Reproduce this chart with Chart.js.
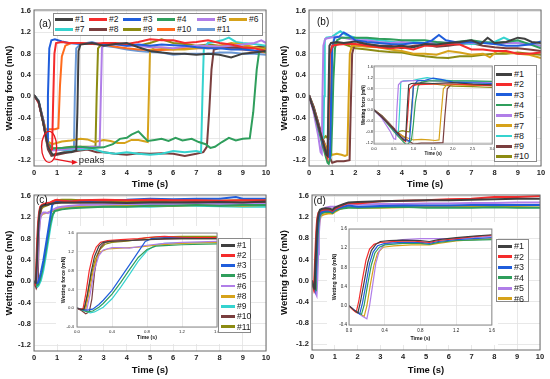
<!DOCTYPE html>
<html>
<head>
<meta charset="utf-8">
<title>Wetting force vs time</title>
<script src="https://cdn.jsdelivr.net/npm/chart.js@4.4.1/dist/chart.umd.min.js"></script>
<style>
  body { margin: 0; background: #fff; }
  #page { position: relative; width: 550px; height: 379px; overflow: hidden; font-family: Arial, "Liberation Sans", sans-serif; }
  #page canvas { position: absolute; }
  .legend { position: absolute; background: #fff; border: 1px solid #8a8a8a; box-sizing: border-box; }
  .item { position: absolute; height: 12px; line-height: 12px; white-space: nowrap; color: #1a1a1a; }
  .item i { position: absolute; left: 0; top: 4.75px; height: 2.8px; }
  .item span { position: absolute; top: 0; }
</style>
</head>
<body>
<div id="page"></div>
<script>
// ---- data ----
const colors = ['#404040', '#f42c2c', '#1f5ddb', '#2f9e5c', '#b07ee8', '#d6a21a', '#35d3cf', '#7a3e3e', '#8c8b12', '#ff6b1c', '#6b99d6'];

const timeTicks = [0, 1, 2, 3, 4, 5, 6, 7, 8, 9, 10];
const forceTicks = [-1.2, -0.8, -0.4, 0.0, 0.4, 0.8, 1.2, 1.6];
const insetTimeTicksB = [0, 0.5, 1.0, 1.5, 2.0, 2.5, 3.0];
const insetTimeTicksCD = [0, 0.4, 0.8, 1.2, 1.6];
const insetForceTicksCD = [-0.4, 0.0, 0.4, 0.8, 1.2, 1.6];

// (a)
const labelsA = ['#1', '#2', '#3', '#4', '#5', '#6', '#7', '#8', '#9', '#10', '#11'];
const a1 = [[0,0.02],[0.2,-0.1],[0.4,-0.5],[0.6,-0.95],[0.8,-1.1],[1.0,-1.08],[1.3,-1.05],[1.6,-1.05],[1.82,-1.02],[1.87,-0.3],[1.92,0.85],[2.0,0.97],[2.5,1.0],[3.0,0.95],[3.5,0.98],[4.0,1.0],[4.5,0.92],[5.0,0.85],[5.5,0.82],[6.0,0.8],[6.5,0.8],[7.0,0.78],[7.5,0.8],[8.0,0.78],[8.5,0.73],[9.0,0.8],[9.5,0.82],[10,0.85]];
const a2 = [[0,0.02],[0.2,-0.12],[0.4,-0.5],[0.55,-0.85],[0.7,-1.02],[0.78,-1.0],[0.82,-0.2],[0.88,0.8],[0.95,1.0],[1.2,1.02],[1.5,1.0],[2.0,1.0],[2.5,0.98],[3.0,1.0],[3.5,1.0],[4.0,0.98],[4.5,1.02],[5.0,1.07],[5.5,1.05],[6.0,1.05],[6.5,1.0],[7.0,1.02],[7.5,1.05],[8.0,1.0],[8.5,0.97],[9.0,0.92],[9.5,0.9],[10,0.85]];
const a3 = [[0,0.02],[0.2,-0.1],[0.4,-0.45],[0.52,-0.8],[0.57,-0.85],[0.6,0.0],[0.66,0.9],[0.75,1.05],[0.9,1.07],[1.2,1.03],[1.5,1.0],[2.0,0.98],[2.5,1.0],[3.0,0.97],[3.5,0.98],[4.0,0.95],[4.5,0.97],[5.0,0.95],[5.5,0.97],[6.0,0.96],[6.5,0.95],[7.0,0.92],[7.5,0.9],[8.0,0.9],[8.5,0.88],[9.0,0.88],[9.5,0.86],[10,0.85]];
const a4 = [[0,0.02],[0.2,-0.1],[0.4,-0.5],[0.6,-0.9],[0.8,-0.98],[1.2,-0.97],[1.6,-0.96],[2.0,-0.95],[2.5,-0.97],[3.0,-0.96],[3.4,-0.9],[3.7,-0.8],[4.0,-0.78],[4.2,-0.72],[4.5,-0.66],[4.7,-0.75],[4.9,-0.84],[5.2,-0.82],[5.5,-0.8],[5.8,-0.84],[6.1,-0.78],[6.4,-0.83],[6.8,-0.8],[7.1,-0.86],[7.4,-0.9],[7.6,-0.97],[7.8,-0.95],[8.1,-0.86],[8.4,-0.78],[8.7,-0.83],[9.0,-0.8],[9.3,-0.79],[9.45,-0.3],[9.6,0.5],[9.7,0.82],[9.85,0.86],[10,0.82]];
const a5 = [[0,0.02],[0.2,-0.12],[0.4,-0.5],[0.6,-0.95],[0.8,-1.02],[1.2,-1.0],[1.6,-0.98],[2.0,-0.97],[2.5,-0.95],[2.83,-0.95],[2.88,0.0],[2.93,0.92],[3.1,0.98],[3.5,0.97],[4.0,0.95],[4.5,0.95],[5.0,0.92],[5.5,0.92],[6.0,0.9],[6.5,0.93],[7.0,0.95],[7.5,0.95],[8.0,0.93],[8.5,0.95],[9.0,0.97],[9.5,1.0],[9.8,1.05],[10,1.0]];
const a6 = [[0,0.02],[0.2,-0.1],[0.4,-0.45],[0.6,-0.85],[0.8,-0.9],[1.2,-0.85],[1.6,-0.83],[2.0,-0.8],[2.3,-0.81],[2.6,-0.86],[3.0,-0.82],[3.3,-0.84],[3.6,-0.88],[3.9,-0.88],[4.2,-0.82],[4.5,-0.82],[4.9,-0.86],[4.95,0.0],[5.0,0.85],[5.2,0.92],[5.6,0.9],[6.0,0.88],[6.5,0.88],[7.0,0.9],[7.5,0.93],[8.0,0.95],[8.5,1.0],[9.0,0.97],[9.5,0.92],[10,0.88]];
const a7 = [[0,0.02],[0.2,-0.1],[0.4,-0.5],[0.6,-0.9],[0.8,-1.0],[1.2,-1.0],[1.6,-1.0],[2.0,-1.0],[2.5,-0.98],[3.0,-1.05],[3.5,-1.08],[4.0,-1.05],[4.5,-1.08],[5.0,-1.1],[5.5,-1.08],[6.0,-1.03],[6.5,-1.05],[7.0,-1.03],[7.2,-1.05],[7.26,0.0],[7.32,0.9],[7.5,1.0],[7.8,1.02],[8.1,1.05],[8.4,1.1],[8.7,1.02],[9.0,1.0],[9.5,0.98],[10,0.95]];
const a8 = [[0,0.02],[0.2,-0.1],[0.4,-0.5],[0.6,-1.0],[0.75,-1.12],[1.0,-1.1],[1.5,-1.05],[2.0,-1.02],[2.3,-1.0],[2.7,-1.05],[3.0,-1.05],[3.5,-1.08],[4.0,-1.1],[4.5,-1.07],[5.0,-1.08],[5.5,-1.07],[6.0,-1.08],[6.5,-1.12],[7.0,-1.08],[7.3,-1.05],[7.45,-0.95],[7.55,-0.3],[7.65,0.5],[7.75,0.88],[8.0,0.9],[8.5,0.92],[9.0,0.9],[9.5,0.92],[10,0.95]];
const a9 = [[0,0.02],[0.2,-0.1],[0.4,-0.5],[0.6,-0.9],[0.8,-0.98],[1.2,-0.97],[1.6,-0.95],[2.0,-0.95],[2.4,-0.95],[2.65,-0.95],[2.7,0.0],[2.76,0.9],[2.9,0.97],[3.5,0.98],[4.0,0.97],[4.5,0.95],[5.0,1.0],[5.5,1.07],[6.0,1.0],[6.5,0.98],[7.0,0.95],[7.5,0.97],[8.0,0.95],[8.5,0.95],[9.0,0.92],[9.5,0.92],[10,0.9]];
const a10 = [[0,0.02],[0.2,-0.12],[0.4,-0.45],[0.5,-0.62],[0.7,-0.62],[0.9,-0.62],[1.05,-0.6],[1.12,0.2],[1.2,0.75],[1.35,0.95],[1.6,1.0],[2.0,1.0],[2.5,0.98],[3.0,0.97],[3.5,0.93],[4.0,0.9],[4.5,0.88],[5.0,0.87],[5.5,0.87],[6.0,0.88],[6.5,0.9],[7.0,0.9],[7.5,0.9],[8.0,0.92],[8.5,0.9],[9.0,0.88],[9.5,0.85],[10,0.82]];
const a11 = [[0,0.02],[0.2,-0.08],[0.4,-0.45],[0.6,-0.85],[0.8,-0.98],[1.2,-1.0],[1.5,-1.02],[1.72,-1.02],[1.76,0.0],[1.82,0.9],[2.0,0.98],[2.5,1.02],[3.0,0.95],[3.5,0.92],[4.0,0.88],[4.5,0.85],[5.0,0.83],[5.5,0.82],[6.0,0.78],[6.5,0.8],[7.0,0.8],[7.5,0.8],[8.0,0.82],[8.5,0.82],[9.0,0.8],[9.5,0.8],[10,0.78]];

// (b)
const labelsB = ['#1', '#2', '#3', '#4', '#5', '#7', '#8', '#9', '#10'];
const b1 = [[0,0.02],[0.2,-0.25],[0.4,-0.55],[0.6,-0.85],[0.75,-1.1],[0.8,-1.12],[0.84,0.0],[0.88,0.95],[0.95,1.0],[1.2,1.02],[1.5,1.0],[2.0,1.03],[2.5,0.98],[3.0,0.95],[3.5,0.93],[4.0,0.95],[4.5,0.92],[5.0,0.98],[5.5,0.97],[6.0,1.0],[6.5,1.02],[7.0,1.05],[7.4,0.98],[7.7,1.1],[8.0,1.0],[8.5,1.02],[9.0,1.1],[9.3,1.08],[9.6,1.02],[10,1.0]];
const b2 = [[0,0.02],[0.2,-0.25],[0.4,-0.55],[0.6,-0.85],[0.75,-1.1],[0.8,-1.15],[0.85,-0.3],[0.9,0.8],[1.0,0.95],[1.3,0.97],[1.6,0.98],[2.0,0.98],[2.5,0.95],[3.0,0.92],[3.5,0.9],[4.0,0.92],[4.5,0.88],[5.0,0.95],[5.5,0.95],[6.0,0.98],[6.5,0.97],[7.0,0.88],[7.5,0.88],[8.0,0.85],[8.5,0.85],[9.0,0.8],[9.5,0.8],[10,0.82]];
const b3 = [[0,0.02],[0.2,-0.25],[0.4,-0.55],[0.6,-0.9],[0.8,-1.12],[0.9,-1.15],[0.95,-0.2],[1.0,0.9],[1.1,1.1],[1.3,1.12],[1.5,1.2],[1.7,1.15],[2.0,1.05],[2.5,1.02],[3.0,1.0],[3.5,0.98],[4.0,0.97],[4.5,1.0],[5.0,1.0],[5.3,1.05],[5.6,1.15],[5.9,1.05],[6.5,1.0],[7.0,1.02],[7.5,1.0],[8.0,0.98],[8.5,0.95],[9.0,0.95],[9.5,0.97],[10,1.03]];
const b4 = [[0,0.02],[0.2,-0.25],[0.4,-0.6],[0.6,-0.95],[0.8,-1.25],[0.85,-1.27],[0.95,-1.1],[1.0,-0.5],[1.05,0.3],[1.12,0.9],[1.2,1.05],[1.4,1.1],[1.7,1.1],[2.0,1.1],[2.5,1.1],[3.0,1.08],[3.5,1.07],[4.0,1.05],[4.5,1.05],[5.0,1.05],[5.5,1.02],[6.0,1.0],[6.5,1.03],[7.0,1.05],[7.5,1.02],[8.0,1.0],[8.5,1.02],[9.0,1.05],[9.5,0.98],[10,0.9]];
const b5 = [[0,0.02],[0.2,-0.3],[0.4,-0.75],[0.5,-1.05],[0.55,-1.08],[0.58,0.0],[0.62,0.95],[0.7,1.08],[0.9,1.1],[1.2,1.12],[1.5,1.1],[2.0,1.05],[2.5,1.05],[3.0,1.02],[3.5,1.0],[4.0,1.02],[4.5,1.0],[5.0,0.98],[5.5,1.02],[6.0,1.0],[6.5,1.02],[7.0,1.0],[7.5,1.02],[8.0,0.98],[8.5,1.0],[9.0,1.0],[9.5,0.97],[10,0.95]];
const b7 = [[0,0.02],[0.2,-0.25],[0.4,-0.55],[0.6,-0.85],[0.8,-1.0],[1.0,-1.1],[1.2,-1.08],[1.4,-1.1],[1.55,-1.12],[1.65,-1.1],[1.7,-0.2],[1.76,0.8],[1.85,0.95],[2.0,0.95],[2.5,0.93],[3.0,0.92],[3.5,0.88],[4.0,0.85],[4.5,0.8],[5.0,0.8],[5.5,0.78],[6.0,0.85],[6.5,0.82],[7.0,0.78],[7.5,0.8],[7.8,0.73],[8.1,0.85],[8.5,0.82],[9.0,0.8],[9.5,0.78],[10,0.72]];
const b8 = [[0,0.02],[0.2,-0.25],[0.4,-0.55],[0.55,-0.8],[0.62,-0.78],[0.65,0.0],[0.68,1.05],[0.75,1.1],[1.0,1.12],[1.2,1.18],[1.35,1.22],[1.6,1.15],[2.0,1.1],[2.5,1.08],[3.0,1.05],[3.5,1.03],[4.0,1.0],[4.5,1.02],[5.0,1.0],[5.5,0.98],[6.0,1.0],[6.5,1.0],[7.0,0.98],[7.5,1.0],[8.0,1.02],[8.4,1.1],[8.8,1.02],[9.2,1.0],[9.6,0.98],[10,0.95]];
const b9 = [[0,0.02],[0.2,-0.2],[0.4,-0.5],[0.6,-0.8],[0.8,-1.05],[1.0,-1.25],[1.2,-1.22],[1.5,-1.22],[1.75,-1.2],[1.8,-0.2],[1.86,0.8],[1.95,0.95],[2.2,0.98],[2.5,0.97],[3.0,0.95],[3.5,0.95],[4.0,0.9],[4.5,0.95],[5.0,0.97],[5.5,0.93],[6.0,0.95],[6.5,0.98],[7.0,1.0],[7.5,0.95],[8.0,0.92],[8.5,0.9],[9.0,0.9],[9.5,0.88],[10,0.85]];
const b10 = [[0,0.02],[0.2,-0.2],[0.4,-0.5],[0.55,-0.82],[0.65,-0.78],[0.72,-0.75],[0.8,-0.78],[0.9,-0.8],[0.95,0.0],[1.0,0.9],[1.1,1.0],[1.5,0.98],[2.0,0.9],[2.5,0.88],[3.0,0.85],[3.5,0.83],[4.0,0.82],[4.5,0.78],[5.0,0.75],[5.5,0.73],[6.0,0.72],[6.5,0.75],[7.0,0.75],[7.5,0.78],[8.0,0.8],[8.5,0.8],[9.0,0.82],[9.5,0.8],[10,0.78]];

// (c)
const labelsC = ['#1', '#2', '#3', '#5', '#6', '#8', '#9', '#10', '#11'];
const c1 = [[0,0.0],[0.05,-0.03],[0.08,-0.02],[0.12,0.3],[0.16,0.75],[0.2,1.1],[0.25,1.32],[0.3,1.4],[0.4,1.43],[0.6,1.44],[0.8,1.46],[1.0,1.48],[1.2,1.48],[1.6,1.48],[2,1.48],[3,1.48],[4,1.47],[5,1.48],[6,1.48],[7,1.48],[8,1.49],[9,1.48],[10,1.5]];
const c2 = [[0,0.0],[0.04,-0.03],[0.07,0.0],[0.1,0.3],[0.14,0.8],[0.18,1.12],[0.22,1.3],[0.27,1.4],[0.35,1.44],[0.5,1.46],[0.7,1.48],[0.9,1.52],[1.0,1.53],[1.2,1.51],[1.6,1.5],[2,1.52],[3,1.53],[4,1.52],[5,1.53],[6,1.52],[7,1.52],[8,1.51],[9,1.52],[10,1.52]];
const c3 = [[0,0.0],[0.06,-0.03],[0.12,-0.04],[0.18,-0.02],[0.25,0.08],[0.3,0.17],[0.4,0.38],[0.5,0.65],[0.6,0.92],[0.7,1.2],[0.78,1.42],[0.85,1.48],[1.0,1.5],[1.2,1.5],[1.6,1.5],[2,1.5],[3,1.52],[4,1.53],[5,1.55],[6,1.54],[7,1.55],[8,1.55],[8.7,1.58],[9,1.55],[10,1.55]];
const c5 = [[0,0.0],[0.06,-0.04],[0.12,-0.08],[0.18,-0.06],[0.25,0.02],[0.3,0.1],[0.4,0.3],[0.5,0.55],[0.6,0.82],[0.7,1.08],[0.8,1.25],[0.9,1.32],[1.0,1.33],[1.2,1.35],[1.6,1.37],[2,1.38],[3,1.4],[4,1.4],[5,1.42],[6,1.42],[7,1.43],[8,1.42],[9,1.43],[10,1.43]];
const c6 = [[0,0.0],[0.06,-0.03],[0.11,-0.05],[0.15,0.3],[0.2,0.82],[0.25,1.12],[0.3,1.24],[0.4,1.29],[0.5,1.29],[0.6,1.28],[0.8,1.34],[1.0,1.38],[1.2,1.4],[1.6,1.42],[2,1.43],[3,1.44],[4,1.45],[5,1.45],[6,1.45],[7,1.46],[8,1.45],[9,1.45],[10,1.45]];
const c8 = [[0,0.0],[0.06,-0.03],[0.1,-0.02],[0.14,0.35],[0.18,0.75],[0.22,1.05],[0.27,1.2],[0.35,1.26],[0.5,1.28],[0.7,1.3],[0.9,1.34],[1.2,1.38],[1.6,1.4],[2,1.4],[3,1.41],[4,1.42],[5,1.42],[6,1.42],[7,1.43],[8,1.43],[9,1.42],[10,1.43]];
const c9 = [[0,0.0],[0.08,-0.05],[0.15,-0.1],[0.2,-0.08],[0.3,0.02],[0.4,0.2],[0.5,0.45],[0.6,0.72],[0.7,1.0],[0.8,1.22],[0.9,1.35],[1.0,1.38],[1.2,1.39],[1.6,1.4],[2,1.4],[3,1.4],[4,1.41],[5,1.4],[6,1.42],[7,1.42],[8,1.41],[9,1.4],[10,1.4]];
const c10 = [[0,0.0],[0.05,-0.05],[0.1,-0.12],[0.14,-0.08],[0.17,0.2],[0.2,0.75],[0.23,1.1],[0.27,1.3],[0.32,1.4],[0.4,1.42],[0.6,1.44],[0.8,1.46],[1.0,1.47],[1.2,1.48],[1.6,1.48],[2,1.48],[3,1.48],[4,1.47],[5,1.48],[6,1.48],[7,1.49],[8,1.48],[9,1.48],[10,1.48]];
const c11 = [[0,0.0],[0.05,-0.02],[0.09,0.0],[0.13,0.4],[0.17,0.75],[0.21,1.05],[0.26,1.25],[0.32,1.36],[0.4,1.4],[0.6,1.43],[0.8,1.5],[1.0,1.52],[1.2,1.53],[1.6,1.53],[2,1.52],[3,1.51],[4,1.5],[5,1.5],[6,1.51],[7,1.52],[8,1.51],[9,1.52],[10,1.52]];

// (d)
const labelsD = ['#1', '#2', '#3', '#4', '#5', '#6'];
const d1 = [[0,0.0],[0.05,-0.08],[0.1,-0.15],[0.13,0.1],[0.17,0.5],[0.21,0.9],[0.25,1.15],[0.3,1.28],[0.35,1.34],[0.45,1.36],[0.6,1.37],[0.8,1.36],[0.9,1.34],[1.0,1.38],[1.2,1.42],[1.4,1.45],[1.6,1.48],[2,1.49],[3,1.5],[4,1.51],[5,1.52],[6,1.52],[7,1.53],[8,1.54],[9,1.55],[10,1.55]];
const d2 = [[0,0.0],[0.04,-0.08],[0.08,-0.14],[0.11,0.1],[0.15,0.55],[0.19,0.95],[0.23,1.18],[0.28,1.28],[0.35,1.32],[0.5,1.34],[0.7,1.35],[0.9,1.32],[1.0,1.36],[1.2,1.4],[1.4,1.44],[1.6,1.47],[2,1.46],[3,1.5],[4,1.51],[5,1.52],[6,1.54],[7,1.55],[8,1.58],[9,1.58],[10,1.6]];
const d3 = [[0,0.0],[0.05,-0.08],[0.12,-0.17],[0.15,0.05],[0.19,0.45],[0.23,0.88],[0.27,1.12],[0.32,1.25],[0.4,1.3],[0.6,1.32],[0.8,1.32],[0.9,1.3],[1.0,1.34],[1.2,1.38],[1.4,1.4],[1.6,1.42],[2,1.4],[3,1.41],[4,1.42],[5,1.42],[6,1.42],[7,1.43],[8,1.43],[9,1.43],[10,1.43]];
const d4 = [[0,0.0],[0.06,-0.1],[0.14,-0.18],[0.17,0.02],[0.21,0.45],[0.25,0.85],[0.29,1.1],[0.34,1.22],[0.4,1.27],[0.6,1.3],[0.8,1.3],[0.9,1.28],[1.0,1.32],[1.2,1.36],[1.4,1.37],[1.6,1.38],[2,1.38],[3,1.39],[4,1.4],[5,1.38],[6,1.38],[7,1.38],[8,1.39],[9,1.38],[10,1.38]];
const d5 = [[0,0.0],[0.08,-0.12],[0.15,-0.22],[0.2,-0.27],[0.23,0.0],[0.27,0.5],[0.3,0.88],[0.34,1.15],[0.4,1.28],[0.5,1.35],[0.6,1.38],[0.8,1.4],[0.9,1.4],[1.0,1.4],[1.2,1.4],[1.4,1.42],[1.6,1.45],[2,1.44],[3,1.45],[4,1.45],[5,1.46],[6,1.46],[7,1.47],[8,1.47],[9,1.48],[10,1.48]];
const d6 = [[0,0.0],[0.06,-0.1],[0.12,-0.17],[0.17,-0.22],[0.2,0.0],[0.24,0.45],[0.28,0.85],[0.32,1.1],[0.38,1.22],[0.5,1.25],[0.7,1.27],[0.9,1.27],[1.0,1.3],[1.2,1.35],[1.4,1.38],[1.6,1.4],[2,1.38],[3,1.38],[4,1.39],[5,1.4],[6,1.4],[7,1.4],[8,1.41],[9,1.41],[10,1.42]];

// annotation in (a): circled minima and arrow end [time, force]
const peakCentre = [0.65, -0.95];
const peakArrowTip = [1.89, -1.24];

// ---- drawing ----
const FONT = 'Arial, "Liberation Sans", sans-serif';
const page = document.getElementById('page');

const framePlugin = {
  id: 'frame',
  beforeDraw(chart, args, o) {
    if (!o.fill) return;
    const ctx = chart.ctx;
    ctx.save();
    ctx.fillStyle = '#fff';
    ctx.fillRect(0, 0, chart.width, chart.height);
    ctx.restore();
  },
  afterDraw(chart, args, o) {
    const {ctx, chartArea: a} = chart;
    ctx.save();
    ctx.strokeStyle = o.color || '#666';
    ctx.lineWidth = o.width || 1;
    ctx.strokeRect(a.left, a.top, a.right - a.left, a.bottom - a.top);
    if (o.tag) {
      ctx.fillStyle = '#111';
      ctx.font = '10px ' + FONT;
      ctx.textBaseline = 'middle';
      ctx.fillText(o.tag, a.left + o.dx, a.top + o.dy);
    }
    ctx.restore();
  }
};

const peaksPlugin = {
  id: 'peaks',
  afterDatasetsDraw(chart) {
    const {ctx, scales: {x, y}} = chart;
    const cx = x.getPixelForValue(peakCentre[0]), cy = y.getPixelForValue(peakCentre[1]);
    const tx = x.getPixelForValue(peakArrowTip[0]), ty = y.getPixelForValue(peakArrowTip[1]);
    ctx.save();
    ctx.strokeStyle = '#e8141c';
    ctx.fillStyle = '#e8141c';
    ctx.lineWidth = 1.3;
    ctx.beginPath();
    ctx.ellipse(cx, cy, 7.5, 15.5, 0, 0, Math.PI * 2);
    ctx.stroke();
    ctx.beginPath();
    ctx.moveTo(cx + 5, cy + 12);
    ctx.lineTo(tx - 5, ty);
    ctx.stroke();
    ctx.beginPath();
    ctx.moveTo(tx, ty);
    ctx.lineTo(tx - 6, ty - 2.5);
    ctx.lineTo(tx - 6, ty + 2.5);
    ctx.closePath();
    ctx.fill();
    ctx.fillStyle = '#222';
    ctx.font = '9.5px ' + FONT;
    ctx.textBaseline = 'middle';
    ctx.fillText('peaks', tx + 1, ty - 2);
    ctx.restore();
  }
};

function addCanvas(box) {
  const c = document.createElement('canvas');
  c.width = box[2];
  c.height = box[3];
  c.style.left = box[0] + 'px';
  c.style.top = box[1] + 'px';
  page.appendChild(c);
  return c;
}

// box = [left, top, width, height] of canvas, area = [left, top, right, bottom] of plot
function plot(box, area, s) {
  const datasets = s.series.map((d, i) => ({
    label: s.labels[i],
    data: d.map(p => ({x: p[0], y: p[1]})),
    borderColor: colors[i],
    backgroundColor: colors[i],
    borderWidth: s.lw,
    pointRadius: 0,
    showLine: true,
    tension: 0
  }));
  const axisFont = {family: FONT, size: s.tickSize, weight: s.tickWeight};
  const titleFont = {family: FONT, size: s.titleSize, weight: 'bold'};
  return new Chart(addCanvas(box), {
    type: 'scatter',
    data: {datasets},
    plugins: s.peaks ? [framePlugin, peaksPlugin] : [framePlugin],
    options: {
      responsive: false,
      animation: false,
      devicePixelRatio: 1,
      layout: {padding: {left: 0, bottom: 0, top: area[1] - box[1], right: box[0] + box[2] - area[2]}},
      plugins: {
        legend: {display: false},
        tooltip: {enabled: false},
        frame: {fill: s.fill, color: s.frameColor, width: 1, tag: s.tag, dx: s.tagDx, dy: s.tagDy}
      },
      scales: {
        x: {
          type: 'linear', min: s.xMin, max: s.xMax,
          afterFit: sc => { sc.height = box[1] + box[3] - area[3]; },
          afterBuildTicks: sc => { sc.ticks = s.xTicks.map(v => ({value: v})); },
          ticks: {font: axisFont, color: '#222', padding: s.xPad, maxRotation: 0, autoSkip: false, callback: s.xFmt},
          grid: {color: '#e2e2e2', lineWidth: 0.8, drawTicks: false},
          border: {display: false},
          title: {display: true, text: 'Time (s)', font: titleFont, color: '#111', padding: {top: 0, bottom: s.xTitlePad}}
        },
        y: {
          type: 'linear', min: s.yMin, max: s.yMax,
          afterFit: sc => { sc.width = area[0] - box[0]; },
          afterBuildTicks: sc => { sc.ticks = s.yTicks.map(v => ({value: v})); },
          ticks: {font: axisFont, color: '#222', padding: s.yPad, autoSkip: false, callback: v => v.toFixed(1)},
          grid: {color: '#e2e2e2', lineWidth: 0.8, drawTicks: false},
          border: {display: false},
          title: {display: true, text: 'Wetting force (mN)', font: titleFont, color: '#111', padding: {top: s.yTitlePad, bottom: 0}}
        }
      }
    }
  });
}

function legend(rect, labels, pos, fontSize, lineLen) {
  const box = document.createElement('div');
  box.className = 'legend';
  box.style.left = rect[0] + 'px';
  box.style.top = rect[1] + 'px';
  box.style.width = (rect[2] - rect[0]) + 'px';
  box.style.height = (rect[3] - rect[1]) + 'px';
  page.appendChild(box);
  labels.forEach((lab, i) => {
    const it = document.createElement('div');
    it.className = 'item';
    it.style.left = pos[i][0] + 'px';
    it.style.top = (pos[i][1] - 6) + 'px';
    it.style.fontSize = fontSize + 'px';
    it.innerHTML = '<i style="width:' + lineLen + 'px;background:' + colors[i] + '"></i><span style="left:' + (lineLen + 2) + 'px">' + lab + '</span>';
    page.appendChild(it);
  });
}

const mainStyle = {
  xMin: 0, xMax: 10, yMin: -1.31, yMax: 1.62, xTicks: timeTicks, yTicks: forceTicks,
  xFmt: v => String(v), lw: 2, tickSize: 7.5, tickWeight: 'bold', titleSize: 9.5,
  xPad: 2, yPad: 3, xTitlePad: 0, yTitlePad: 4, fill: false, frameColor: '#6a6a6a'
};
const insetStyle = {
  lw: 1.2, tickWeight: 'normal', fill: true, frameColor: '#8a8a8a', xFmt: v => v.toFixed(1)
};

plot([0, 0, 275, 190], [34, 10, 266, 166], Object.assign({}, mainStyle,
  {series: [a1, a2, a3, a4, a5, a6, a7, a8, a9, a10, a11], labels: labelsA, tag: '(a)', tagDx: 5, tagDy: 14, peaks: true}));
plot([275, 0, 275, 190], [309, 10, 541, 166], Object.assign({}, mainStyle,
  {series: [b1, b2, b3, b4, b5, b7, b8, b9, b10], labels: labelsB, tag: '(b)', tagDx: 8, tagDy: 12}));
plot([0, 185, 275, 194], [34, 195, 266, 351], Object.assign({}, mainStyle,
  {series: [c1, c2, c3, c5, c6, c8, c9, c10, c11], labels: labelsC, tag: '(c)', tagDx: 2, tagDy: 5, xTitlePad: 3}));
plot([275, 185, 275, 194], [312, 195, 540, 350], Object.assign({}, mainStyle,
  {series: [d1, d2, d3, d4, d5, d6], labels: labelsD, tag: '(d)', tagDx: 1.5, tagDy: 6, xTitlePad: 3}));

// insets
plot([356, 60, 141, 100], [374, 66, 493, 144], Object.assign({}, insetStyle,
  {series: [b1, b2, b3, b4, b5, b7, b8, b9, b10], labels: labelsB, xMin: 0, xMax: 3, yMin: -1.25, yMax: 1.65,
   xTicks: insetTimeTicksB, yTicks: forceTicks, tickSize: 4, titleSize: 4.5, xPad: 2, yPad: 1, xTitlePad: 3.3, yTitlePad: 5.3}));
plot([56, 226, 166, 118], [77, 233, 218, 327], Object.assign({}, insetStyle,
  {series: [c1, c2, c3, c5, c6, c8, c9, c10, c11], labels: labelsC, xMin: 0, xMax: 1.6, yMin: -0.4, yMax: 1.6,
   xTicks: insetTimeTicksCD, yTicks: insetForceTicksCD, tickSize: 4.3, titleSize: 5.2, xPad: 2, yPad: 3, xTitlePad: 3.3, yTitlePad: 4.5}));
plot([327, 222, 171, 123], [349, 229, 494, 325], Object.assign({}, insetStyle,
  {series: [d1, d2, d3, d4, d5, d6], labels: labelsD, xMin: 0, xMax: 1.6, yMin: -0.4, yMax: 1.6,
   xTicks: insetTimeTicksCD, yTicks: insetForceTicksCD, tickSize: 4.5, titleSize: 5.2, xPad: 3, yPad: 2, xTitlePad: 3, yTitlePad: 4}));

// legends
const colsA = [55, 89, 123, 157, 197, 229];
legend([53, 13, 263, 36], labelsA, labelsA.map((l, i) => [colsA[i % 6], i < 6 ? 19 : 29]), 8.5, 18);
legend([494, 65, 537, 162], labelsB, labelsB.map((l, i) => [496, 74 + i * 10.3]), 9, 16);
legend([218, 238, 251, 333], labelsC, labelsC.map((l, i) => [221, 245 + i * 10.2]), 8.5, 14);
legend([496, 239, 529, 302], labelsD, labelsD.map((l, i) => [498, 246 + i * 10.5]), 9, 14);
</script>
</body>
</html>
